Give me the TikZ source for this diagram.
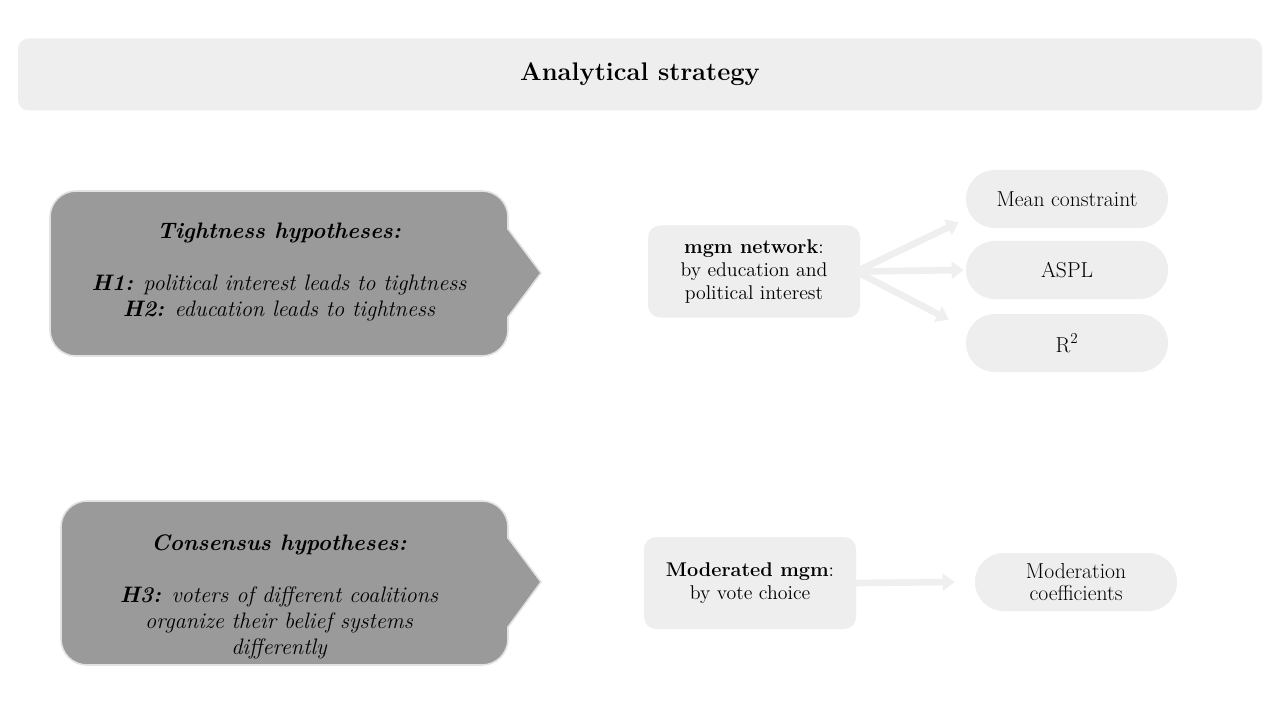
\documentclass[tikz,border=0pt]{standalone}
\usetikzlibrary{arrows.meta,calc}
\definecolor{lightbox}{HTML}{EEEEEE}
\definecolor{darkbox}{HTML}{9A9A9A}
\definecolor{arrowgray}{HTML}{EFEFEF}
\definecolor{rimgray}{HTML}{E2E2E2}
\tikzset{
  titlebox/.style={fill=lightbox, rounded corners=8pt, minimum width=933pt, minimum height=54pt, inner sep=0pt},
  methodbox/.style={fill=lightbox, rounded corners=9pt, minimum width=159pt, minimum height=69pt, inner sep=0pt, align=center, font=\fontsize{14.9pt}{17pt}\selectfont},
  pill/.style={fill=lightbox, rounded corners=21.5pt, minimum width=151.5pt, minimum height=43.5pt, inner sep=0pt, align=center, font=\fontsize{16.2pt}{17pt}\selectfont},
  hypbox/.style={fill=darkbox, draw=rimgray, line width=1.2pt},
  hyptext/.style={align=center, inner sep=0pt, font=\fontsize{16.8pt}{19.5pt}\selectfont\itshape},
  bigarrow/.style={draw=arrowgray, line width=5pt, -{Triangle[length=9pt,width=12.5pt]}},
}
\begin{document}
\begin{tikzpicture}[x=0.75pt,y=-0.75pt]
\useasboundingbox (0,0) rectangle (1280,720);
\fill[white] (0,0) rectangle (1280,720);

% title
\node[titlebox] (title) at (640,74.5) {\fontsize{19.1pt}{23pt}\selectfont\bfseries Analytical strategy};

% hypothesis shapes (radius 26px = 19.5pt)
\path[hypbox] (76,191) -- (482,191) arc[start angle=90,end angle=0,radius=19.5pt]
  -- (508,229) -- (541,273) -- (508,317) -- (508,330)
  arc[start angle=0,end angle=-90,radius=19.5pt] -- (76,356)
  arc[start angle=270,end angle=180,radius=19.5pt] -- (50,217)
  arc[start angle=180,end angle=90,radius=19.5pt] -- cycle;
\path[hypbox] (87,501) -- (482,501) arc[start angle=90,end angle=0,radius=19.5pt]
  -- (508,538) -- (541,582) -- (508,627) -- (508,639)
  arc[start angle=0,end angle=-90,radius=19.5pt] -- (87,665)
  arc[start angle=270,end angle=180,radius=19.5pt] -- (61,527)
  arc[start angle=180,end angle=90,radius=19.5pt] -- cycle;

\node[hyptext] (tight) at (279,272) {\textbf{Tightness hypotheses:}\\[19.5pt]
  \textbf{H1:} political interest leads to tightness\\
  \textbf{H2:} education leads to tightness};
\node[hyptext] (cons) at (279,597) {\textbf{Consensus hypotheses:}\\[19.5pt]
  \textbf{H3:} voters of different coalitions\\
  organize their belief systems\\
  differently};

% method boxes
\node[methodbox] (mgm) at (754,271.5) {\textbf{mgm network}:\\by education and\\political interest};
\node[methodbox] (mod) at (750,583) {\textbf{Moderated mgm}:\\by vote choice};

% outcome pills
\node[pill] (mc) at (1067,199) {Mean constraint};
\node[pill] (aspl) at (1067,270) {ASPL};
\node[pill] (r2) at (1067,343) {R\textsuperscript{2}};
\node[pill] (modc) at (1076,582) {Moderation\\coefficients};

% arrows
\draw[bigarrow] ([xshift=-3]mgm.east) -- ($(mc.south west)+(-7,-6)$);
\draw[bigarrow] ([xshift=-3]mgm.east) -- ($(aspl.west)+(-2,0)$);
\draw[bigarrow] ([xshift=-3]mgm.east) -- ($(r2.north west)+(-17,6)$);
\draw[bigarrow] ([xshift=-1]mod.east) -- ($(modc.west)+(-20,0)$);
\end{tikzpicture}
\end{document}
